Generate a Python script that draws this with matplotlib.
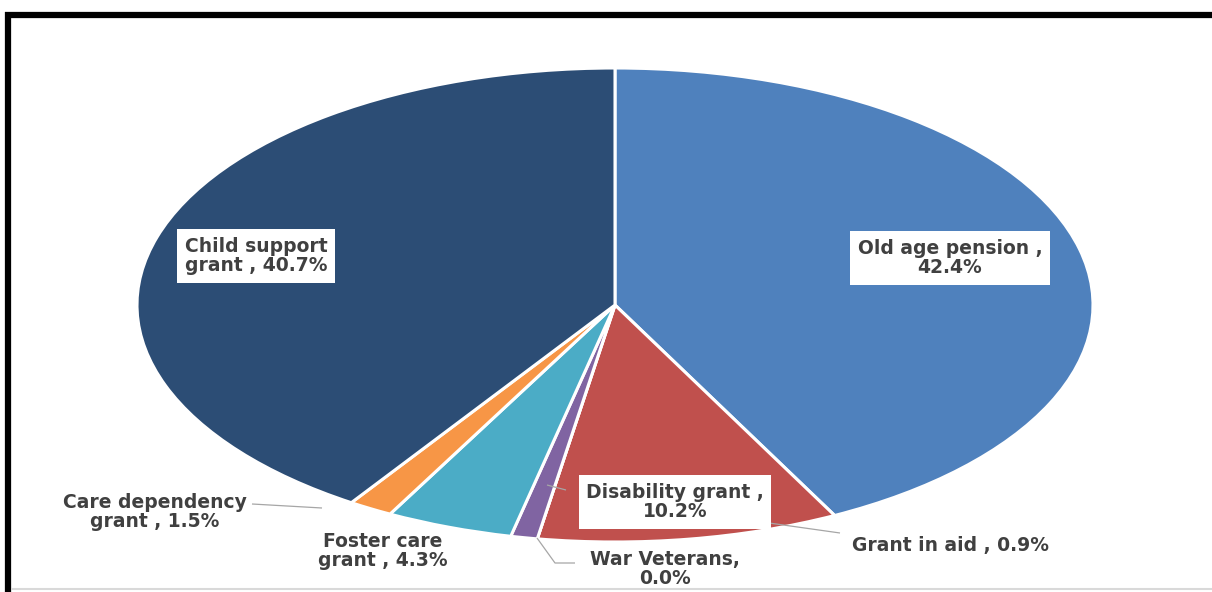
import matplotlib
matplotlib.use("Agg")
import matplotlib.pyplot as plt
from matplotlib.lines import Line2D

# ---- data ----
categories = ["Old age pension", "Disability grant", "War Veterans", "Grant in aid",
              "Foster care grant", "Care dependency grant", "Child support grant"]
shares = [42.4, 10.2, 0.0, 0.9, 4.3, 1.5, 40.7]
colors = ["#4F81BD", "#C0504D", "#9BBB59", "#8064A2", "#4BACC6", "#F79646", "#2C4D75"]
label_texts = ["Old age pension ,\n42.4%", "Disability grant ,\n10.2%", "War Veterans,\n0.0%",
               "Grant in aid , 0.9%", "Foster care\ngrant , 4.3%", "Care dependency\ngrant , 1.5%",
               "Child support\ngrant , 40.7%"]

W, H = 1212, 592
fig = plt.figure(figsize=(W / 100, H / 100), dpi=100)
ax = fig.add_axes([0, 0, 1, 1])

CX, CY, RX, RY = 615, 305, 478, 237

def px(x, y):
    return ((x - CX) / RX, (CY - y) / RY)

wedges, _ = ax.pie(shares, colors=colors, startangle=90, counterclock=False,
                   wedgeprops=dict(edgecolor="white", linewidth=2.2))
ax.set_aspect("auto")
ax.set_xlim((0 - CX) / RX, (W - CX) / RX)
ax.set_ylim((CY - H) / RY, CY / RY)
ax.axis("off")

txt_color = "#404040"
fs = 13.5
boxed = {0: (950, 258), 6: (256, 256), 1: (675, 502)}
plain = {2: (665, 569), 3: (951, 545), 4: (383, 551), 5: (155, 512)}

for i, (x, y) in boxed.items():
    xd, yd = px(x, y)
    ax.text(xd, yd, label_texts[i], ha="center", va="center",
            multialignment="left" if i == 6 else "center",
            fontsize=fs, fontweight="bold", color=txt_color, linespacing=1.05,
            bbox=dict(boxstyle="square,pad=0.4", fc="white", ec="none"))
for i, (x, y) in plain.items():
    xd, yd = px(x, y)
    ax.text(xd, yd, label_texts[i], ha="center", va="center", multialignment="center",
            fontsize=fs, fontweight="bold", color=txt_color, linespacing=1.05)

# leader lines
leaders = [
    [(252, 504), (322, 508)],
    [(537, 538), (555, 563), (575, 563)],
    [(755, 521), (840, 533)],
    [(547, 485), (566, 490)],
]
for pts in leaders:
    xs, ys = zip(*[px(a, b) for a, b in pts])
    ax.plot(xs, ys, color="#A6A6A6", lw=0.9, solid_capstyle="butt")

# frame
fig.add_artist(Line2D([5 / W, 1], [1 - 15 / H, 1 - 15 / H], color="black", lw=4.5,
                      transform=fig.transFigure, solid_capstyle="butt"))
fig.add_artist(Line2D([8 / W, 8 / W], [0, 1 - 12 / H], color="black", lw=4.5,
                      transform=fig.transFigure, solid_capstyle="butt"))
fig.add_artist(Line2D([11 / W, 1], [1 - 589 / H, 1 - 589 / H], color="#D9D9D9", lw=1.5,
                      transform=fig.transFigure, solid_capstyle="butt"))

fig.savefig("out.png", dpi=100)
